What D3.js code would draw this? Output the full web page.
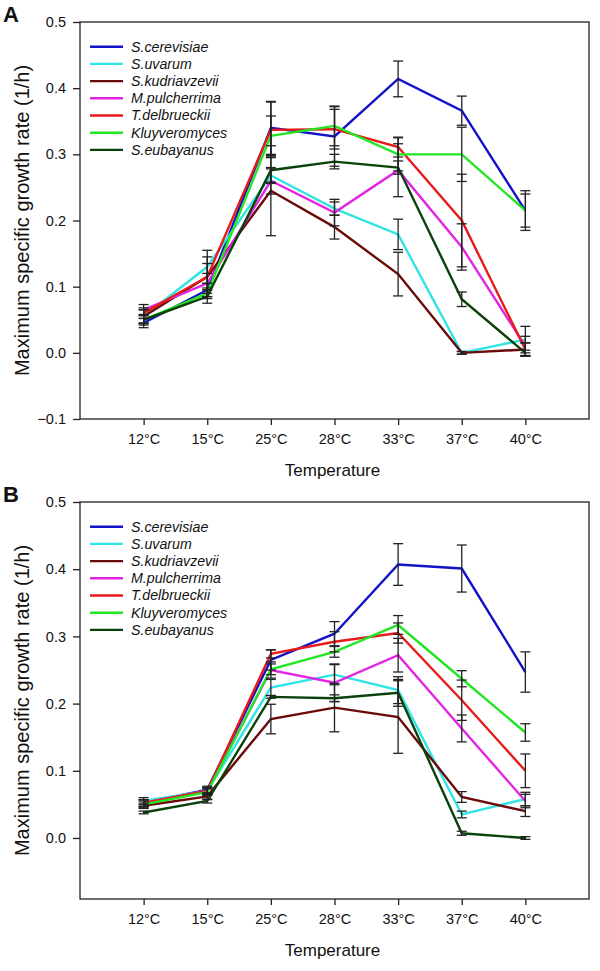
<!DOCTYPE html>
<html>
<head>
<meta charset="utf-8">
<script src="https://cdn.jsdelivr.net/npm/d3@7"></script>
<style>
  html, body { margin: 0; padding: 0; background: #fff; }
  svg { display: block; font-family: "Liberation Sans", Arial, sans-serif; }
</style>
</head>
<body>
<svg id="chart" width="600" height="971"></svg>
<script>
// ---- data ----
const temperatures = ["12°C", "15°C", "25°C", "28°C", "33°C", "37°C", "40°C"];
const species = ["S.cerevisiae", "S.uvarum", "S.kudriavzevii", "M.pulcherrima", "T.delbrueckii", "Kluyveromyces", "S.eubayanus"];
const speciesColors = ["#1212c8", "#30e4e4", "#6a0a0a", "#e424e4", "#e81a1a", "#22e622", "#0a420a"];

const yTicksA = [-0.1, 0.0, 0.1, 0.2, 0.3, 0.4, 0.5];
const yTicksB = [0.0, 0.1, 0.2, 0.3, 0.4, 0.5];

// Panel A means
const A_cerevisiae   = [0.045, 0.095, 0.340, 0.327, 0.414, 0.366, 0.215];
const A_uvarum       = [0.055, 0.130, 0.268, 0.218, 0.179, 0.000, 0.020];
const A_kudriavzevii = [0.055, 0.115, 0.245, 0.190, 0.119, 0.000, 0.005];
const A_pulcherrima  = [0.065, 0.105, 0.260, 0.212, 0.276, 0.160, 0.010];
const A_delbrueckii  = [0.060, 0.115, 0.337, 0.338, 0.311, 0.200, 0.005];
const A_kluyveromyces= [0.050, 0.090, 0.328, 0.343, 0.300, 0.300, 0.215];
const A_eubayanus    = [0.050, 0.085, 0.276, 0.289, 0.280, 0.081, 0.000];
// Panel A error (sd)
const A_cerevisiae_sd   = [0.007, 0.010, 0.040, 0.045, 0.027, 0.022, 0.025];
const A_uvarum_sd       = [0.010, 0.025, 0.010, 0.010, 0.023, 0.002, 0.020];
const A_kudriavzevii_sd = [0.010, 0.030, 0.068, 0.018, 0.033, 0.002, 0.010];
const A_pulcherrima_sd  = [0.008, 0.015, 0.020, 0.020, 0.040, 0.035, 0.015];
const A_delbrueckii_sd  = [0.008, 0.020, 0.042, 0.030, 0.015, 0.070, 0.010];
const A_kluyveromyces_sd= [0.006, 0.008, 0.030, 0.030, 0.025, 0.041, 0.030];
const A_eubayanus_sd    = [0.008, 0.010, 0.020, 0.011, 0.010, 0.011, 0.004];

// Panel B means
const B_cerevisiae   = [0.052, 0.072, 0.265, 0.304, 0.407, 0.401, 0.247];
const B_uvarum       = [0.055, 0.070, 0.224, 0.243, 0.220, 0.035, 0.058];
const B_kudriavzevii = [0.048, 0.062, 0.177, 0.194, 0.180, 0.061, 0.040];
const B_pulcherrima  = [0.052, 0.070, 0.250, 0.231, 0.272, 0.163, 0.055];
const B_delbrueckii  = [0.052, 0.070, 0.274, 0.292, 0.305, 0.205, 0.100];
const B_kluyveromyces= [0.050, 0.068, 0.251, 0.277, 0.317, 0.237, 0.157];
const B_eubayanus    = [0.038, 0.055, 0.210, 0.208, 0.216, 0.007, 0.000];
// Panel B error (sd)
const B_cerevisiae_sd   = [0.005, 0.005, 0.015, 0.018, 0.031, 0.035, 0.030];
const B_uvarum_sd       = [0.005, 0.005, 0.012, 0.015, 0.020, 0.005, 0.010];
const B_kudriavzevii_sd = [0.004, 0.005, 0.022, 0.036, 0.054, 0.008, 0.008];
const B_pulcherrima_sd  = [0.005, 0.005, 0.012, 0.028, 0.025, 0.020, 0.010];
const B_delbrueckii_sd  = [0.005, 0.005, 0.006, 0.015, 0.015, 0.030, 0.025];
const B_kluyveromyces_sd= [0.005, 0.005, 0.008, 0.008, 0.014, 0.012, 0.013];
const B_eubayanus_sd    = [0.002, 0.003, 0.002, 0.005, 0.020, 0.003, 0.002];

const panelA = {
  label: "A",
  means: [A_cerevisiae, A_uvarum, A_kudriavzevii, A_pulcherrima, A_delbrueckii, A_kluyveromyces, A_eubayanus],
  sds: [A_cerevisiae_sd, A_uvarum_sd, A_kudriavzevii_sd, A_pulcherrima_sd, A_delbrueckii_sd, A_kluyveromyces_sd, A_eubayanus_sd],
  yDomain: [-0.1, 0.5], yTicks: yTicksA, top: 22, bottom: 419
};
const panelB = {
  label: "B",
  means: [B_cerevisiae, B_uvarum, B_kudriavzevii, B_pulcherrima, B_delbrueckii, B_kluyveromyces, B_eubayanus],
  sds: [B_cerevisiae_sd, B_uvarum_sd, B_kudriavzevii_sd, B_pulcherrima_sd, B_delbrueckii_sd, B_kluyveromyces_sd, B_eubayanus_sd],
  yDomain: [-0.0908, 0.5], yTicks: yTicksB, top: 502, bottom: 899
};

const svg = d3.select("#chart");
const left = 80, right = 589;

function drawPanel(p) {
  const g = svg.append("g");
  const x = d3.scalePoint().domain(temperatures).range([left, right]).padding(1);
  const y = d3.scaleLinear().domain(p.yDomain).range([p.bottom, p.top]);

  // frame
  g.append("rect").attr("x", left).attr("y", p.top)
    .attr("width", right - left).attr("height", p.bottom - p.top)
    .attr("fill", "none").attr("stroke", "#222").attr("stroke-width", 1.3);

  // axes
  const yAxis = g.append("g").attr("transform", `translate(${left},0)`)
    .call(d3.axisLeft(y).tickValues(p.yTicks).tickFormat(d3.format(".1f")).tickSize(7).tickPadding(7));
  const xAxis = g.append("g").attr("transform", `translate(0,${p.bottom})`)
    .call(d3.axisBottom(x).tickSize(6).tickPadding(9));
  [yAxis, xAxis].forEach(a => {
    a.select(".domain").remove();
    a.selectAll("line").attr("stroke", "#222").attr("stroke-width", 1.3);
    a.selectAll("text").attr("fill", "#111").style("font-size", "14.5px")
      .style("font-family", '"Liberation Sans", Arial, sans-serif');
  });

  // axis titles
  g.append("text").attr("x", (left + right) / 2 - 2).attr("y", p.bottom + 57)
    .attr("text-anchor", "middle").style("font-size", "17px").attr("fill", "#111")
    .text("Temperature");
  const cy = (p.top + p.bottom) / 2;
  g.append("text").attr("transform", `translate(22,${cy}) rotate(-90)`)
    .attr("text-anchor", "middle").attr("dy", "0.35em").style("font-size", "20px").attr("fill", "#111")
    .text("Maximum specific growth rate (1/h)");

  // panel letter
  g.append("text").attr("x", 3).attr("y", p.top)
    .style("font-size", "22px").style("font-weight", "bold").attr("fill", "#111")
    .text(p.label);

  // lines
  const line = d3.line().x((d, i) => x(temperatures[i])).y(d => y(d));
  p.means.forEach((m, si) => {
    g.append("path").datum(m).attr("d", line)
      .attr("fill", "none").attr("stroke", speciesColors[si]).attr("stroke-width", 2.4)
      .attr("stroke-linejoin", "miter");
  });

  // error bars
  const eb = g.append("g").attr("stroke", "#222").attr("stroke-width", 1.3);
  p.means.forEach((m, si) => {
    m.forEach((v, i) => {
      const sd = p.sds[si][i];
      const cx = x(temperatures[i]);
      const y1 = y(v + sd), y2 = y(v - sd);
      eb.append("line").attr("x1", cx).attr("x2", cx).attr("y1", y1).attr("y2", y2);
      eb.append("line").attr("x1", cx - 5).attr("x2", cx + 5).attr("y1", y1).attr("y2", y1);
      eb.append("line").attr("x1", cx - 5).attr("x2", cx + 5).attr("y1", y2).attr("y2", y2);
    });
  });

  // legend
  const lg = g.append("g");
  species.forEach((s, i) => {
    const ly = p.top + 24.7 + i * 17.2;
    lg.append("line").attr("x1", 90).attr("x2", 123).attr("y1", ly).attr("y2", ly)
      .attr("stroke", speciesColors[i]).attr("stroke-width", 2.4);
    lg.append("text").attr("x", 131).attr("y", ly).attr("dy", "0.35em")
      .style("font-size", "14.2px").style("font-style", "italic").attr("fill", "#111")
      .text(s);
  });
}

drawPanel(panelA);
drawPanel(panelB);
</script>
</body>
</html>
